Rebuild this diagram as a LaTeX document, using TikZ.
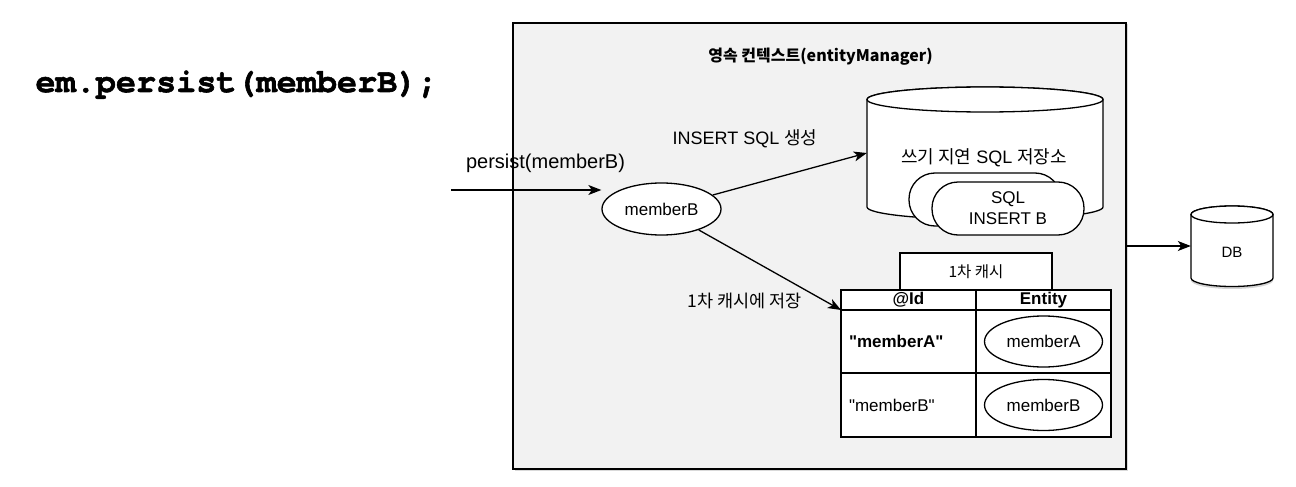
\documentclass[tikz,border=0pt]{standalone}
\usepackage{fontspec}
\setmainfont{Liberation Sans}
\setmonofont{TeX Gyre Cursor}[BoldFeatures={FakeBold=1.6}]
\newfontfamily\kr{Noto Sans CJK KR}
\usetikzlibrary{positioning,shapes.geometric,arrows.meta,shadows}
\definecolor{ctxgray}{HTML}{F2F2F2}
\begin{document}
\begin{tikzpicture}[x=1pt,y=-1pt,
  arr/.style={line width=1.3pt,-{Stealth[length=13pt,width=10pt,inset=3.5pt]}},
  cell/.style={draw,fill=white,line width=1.4pt,inner sep=0pt,outer sep=0pt,minimum width=135pt},
  ent/.style={ellipse,draw,fill=white,line width=1.3pt,inner sep=0pt,minimum width=118pt,minimum height=51pt,font=\fontsize{17}{20}\selectfont},
  pill/.style={draw,fill=white,line width=1.3pt,rounded corners=26pt,minimum width=152pt,minimum height=53pt},
  lbl/.style={anchor=base,font=\fontsize{18}{22}\selectfont}]
\useasboundingbox (0,0) rectangle (1296,487);
\node[anchor=base west,font={\ttfamily\bfseries\fontsize{33.5}{40}\selectfont}] (code) at (32,92) {em.persist(memberB);};

% persistence context
\node[draw,fill=ctxgray,line width=1.5pt,minimum width=613pt,minimum height=446pt,drop shadow={shadow xshift=1.5pt,shadow yshift=-1.5pt,opacity=.3}] (ctx) at (819.5,246) {};
\node[font={\kr\bfseries\fontsize{16}{19}\selectfont}] (ctxlbl) at (820.5,57) {영속 컨텍스트(entityManager)};

% write-behind store
\draw[line width=1.3pt,fill=white] (867,99.5) -- (867,207) arc[start angle=180,end angle=360,x radius=118pt,y radius=12.5pt] -- (1103,99.5) arc[start angle=0,end angle=180,x radius=118pt,y radius=12.5pt] -- cycle;
\draw[line width=1.3pt,fill=white] (985,99.5) ellipse[x radius=118pt,y radius=12.5pt];
\node[minimum width=236pt,minimum height=132pt,inner sep=0pt] (store) at (985,153) {};
\node[lbl] (storelbl) at (984,163) {{\kr 쓰기 지연} SQL {\kr 저장소}};
\node[pill] (sqlback) at (985,199.5) {};
\node[pill,align=center,font=\fontsize{17}{21}\selectfont] (sqlb) at (1008,208.5) {SQL\\INSERT B};

% DB
\draw[line width=1.3pt,fill=white,drop shadow={shadow xshift=0pt,shadow yshift=-2.5pt,opacity=.35}] (1191,214.5) -- (1191,278) arc[start angle=180,end angle=360,x radius=41pt,y radius=8.5pt] -- (1273,214.5) arc[start angle=0,end angle=180,x radius=41pt,y radius=8.5pt] -- cycle;
\draw[line width=1.3pt,fill=white] (1232,214.5) ellipse[x radius=41pt,y radius=8.5pt];
\node[minimum width=82pt,minimum height=81pt,inner sep=0pt,font=\fontsize{15}{18}\selectfont] (db) at (1232,252) {DB};
\draw[arr] (ctx.east) -- (ctx.east -| db.west);

% memberB
\node[ent,minimum width=119pt,minimum height=52pt] (mb) at (661.5,209) {memberB};
\coordinate (src) at (451,190);
\draw[arr] (src) -- (src -| mb.west);
\node[lbl,font=\fontsize{20}{24}\selectfont] (persistlbl) at (545.5,168) {persist(memberB)};
\draw[arr] (mb) -- (store.west);
\node[lbl] (insertlbl) at (745,144) {INSERT SQL {\kr 생성}};

% first-level cache
\node[cell,minimum height=20pt,anchor=north west,font=\bfseries\fontsize{17}{20}\selectfont] (idhd) at (841,290) {@Id};
\node[cell,minimum height=20pt,right=0pt of idhd,font=\bfseries\fontsize{17}{20}\selectfont] (enthd) {Entity};
\node[cell,minimum height=63pt,below=0pt of idhd,text width=119pt,inner xsep=8pt,align=left,font=\bfseries\fontsize{17}{20}\selectfont] (ida) {\textquotedbl memberA\textquotedbl};
\node[cell,minimum height=63pt,right=0pt of ida] (ena) {};
\node[cell,minimum height=64pt,below=0pt of ida,text width=119pt,inner xsep=8pt,align=left,font=\fontsize{17}{20}\selectfont] (idb) {\textquotedbl memberB\textquotedbl};
\node[cell,minimum height=64pt,right=0pt of idb] (enb) {};
\node[ent] (enta) at (ena) {memberA};
\node[ent] (entb) at (enb) {memberB};
\node[cell,minimum width=152pt,minimum height=37pt,above=0pt of idhd.north east,font={\kr\fontsize{15.5}{18}\selectfont}] (cache) {1차 캐시};
\draw[arr] (mb) -- (idhd.south west);
\node[lbl,font={\kr\fontsize{17.5}{21}\selectfont}] (cachelbl) at (745,307) {1차 캐시에 저장};
\end{tikzpicture}
\end{document}
